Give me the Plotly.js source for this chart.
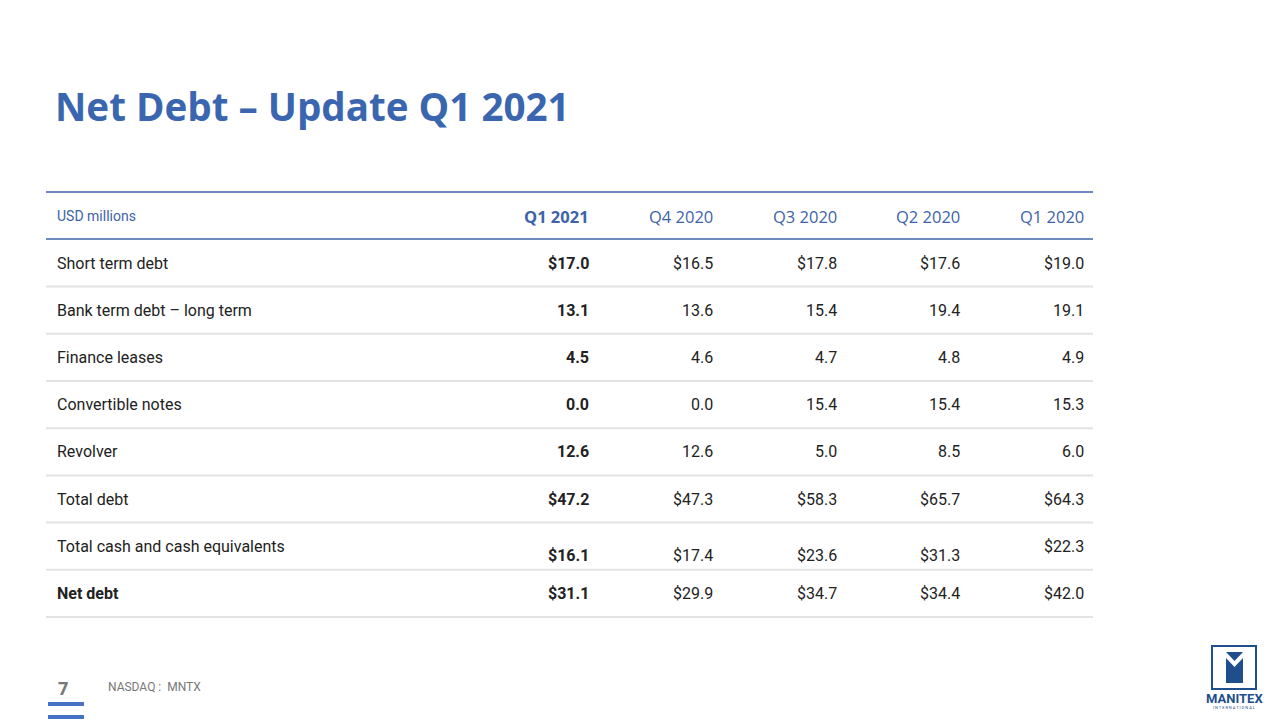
<!DOCTYPE html>
<html>
<head>
<meta charset="utf-8">
<script src="https://cdn.plot.ly/plotly-3.0.1.min.js"></script>
<style>html,body{margin:0;padding:0;background:#fff;}#chart{width:1280px;height:720px;}</style>
</head>
<body>
<div id="chart"></div>
<script>
// ---- data ----
const title = "Net Debt – Update Q1 2021";
const unitLabel = "USD millions";
const columns = ["Q1 2021", "Q4 2020", "Q3 2020", "Q2 2020", "Q1 2020"];
const rowLabels = ["Short term debt", "Bank term debt – long term", "Finance leases", "Convertible notes",
                   "Revolver", "Total debt", "Total cash and cash equivalents", "Net debt"];
const q1_2021 = [17.0, 13.1, 4.5, 0.0, 12.6, 47.2, 16.1, 31.1];
const q4_2020 = [16.5, 13.6, 4.6, 0.0, 12.6, 47.3, 17.4, 29.9];
const q3_2020 = [17.8, 15.4, 4.7, 15.4, 5.0, 58.3, 23.6, 34.7];
const q2_2020 = [17.6, 19.4, 4.8, 15.4, 8.5, 65.7, 31.3, 34.4];
const q1_2020 = [19.0, 19.1, 4.9, 15.3, 6.0, 64.3, 22.3, 42.0];
const dollarRows = ["Short term debt", "Total debt", "Total cash and cash equivalents", "Net debt"];
const footerPage = "7";
const footerTicker = "NASDAQ :  MNTX";

// ---- layout ----
const series = [q1_2021, q4_2020, q3_2020, q2_2020, q1_2020];
const BLUE = "#3d63a8", TEXT = "#222222", GRAY = "#e3e3e3";
const tableLeft = 46, tableRight = 1093, labelX = 55;
const colRight0 = 591, colStep = 123.75;
const headerY = 216, rowY0 = 263, rowStep = 47.2;

const annotations = [];
const shapes = [];

// title
annotations.push({x: 53, y: 106, xref: 'x', yref: 'y', text: "<b>" + title + "</b>", showarrow: false,
  xanchor: 'left', yanchor: 'middle', font: {family: "Open Sans, sans-serif", size: 38.6, color: "#3a66b0", weight: 800}});

// header
annotations.push({x: labelX, y: headerY, text: unitLabel, showarrow: false, xanchor: 'left', yanchor: 'middle',
  font: {family: "Roboto", size: 14, color: BLUE}});
columns.forEach((c, j) => {
  annotations.push({x: colRight0 + j * colStep, y: headerY, text: j === 0 ? "<b>" + c + "</b>" : c, showarrow: false,
    xanchor: 'right', yanchor: 'middle', font: {family: "Open Sans, sans-serif", size: 16.5, color: BLUE}});
});

// rows
rowLabels.forEach((lab, i) => {
  const y = rowY0 + i * rowStep;
  const isNet = lab === "Net debt";
  const isCash = lab === "Total cash and cash equivalents";
  annotations.push({x: labelX, y: y, text: isNet ? "<b>" + lab + "</b>" : lab, showarrow: false,
    xanchor: 'left', yanchor: 'middle', font: {family: "Roboto", size: 16, color: TEXT}});
  series.forEach((s, j) => {
    let t = (dollarRows.includes(lab) ? "$" : "") + s[i].toFixed(1);
    if (j === 0) t = "<b>" + t + "</b>";
    const yy = (isCash && j < 4) ? y + 9 : y;
    annotations.push({x: colRight0 + j * colStep, y: yy, text: t, showarrow: false,
      xanchor: 'right', yanchor: 'middle', font: {family: "Roboto", size: 16, color: TEXT}});
  });
  // separator below row
  shapes.push({type: 'line', xref: 'x', yref: 'y', x0: tableLeft, x1: tableRight, y0: y + rowStep / 2, y1: y + rowStep / 2,
    line: {color: GRAY, width: 2}});
});
// blue header lines
[192, 239].forEach(yv => shapes.push({type: 'line', xref: 'x', yref: 'y', x0: tableLeft, x1: tableRight, y0: yv, y1: yv,
  line: {color: BLUE, width: 1.5}}));

// footer
annotations.push({x: 63, y: 688, text: "<b>" + footerPage + "</b>", showarrow: false, xanchor: 'center', yanchor: 'middle',
  font: {family: "Open Sans, sans-serif", size: 18, color: "#777777"}});
annotations.push({x: 106, y: 687, text: footerTicker, showarrow: false, xanchor: 'left', yanchor: 'middle',
  font: {family: "Roboto", size: 12, color: "#777777"}});
[704, 717].forEach(yv => shapes.push({type: 'rect', xref: 'x', yref: 'y', x0: 48, x1: 84, y0: yv - 2, y1: yv + 2,
  fillcolor: "#4472c4", line: {width: 0}}));

// logo
const LB = "#1f4e8c";
shapes.push({type: 'rect', xref: 'x', yref: 'y', x0: 1212, x1: 1256, y0: 646, y1: 689, line: {color: LB, width: 2}, fillcolor: 'rgba(0,0,0,0)'});
shapes.push({type: 'path', xref: 'x', yref: 'y', path: "M1226,652 L1243,652 L1234.5,661 Z", fillcolor: LB, line: {width: 0}});
shapes.push({type: 'path', xref: 'x', yref: 'y', path: "M1226,658 L1234.5,667 L1243,658 L1243,683 L1226,683 Z", fillcolor: LB, line: {width: 0}});
annotations.push({x: 1234, y: 698, text: "<b>MANITEX</b>", showarrow: false, xanchor: 'center', yanchor: 'middle',
  font: {family: "Roboto", size: 13, color: LB}});
annotations.push({x: 1234, y: 707, text: "I N T E R N A T I O N A L", showarrow: false, xanchor: 'center', yanchor: 'middle',
  font: {family: "Roboto", size: 4, color: LB}});

const layout = {
  width: 1280, height: 720,
  margin: {l: 0, r: 0, t: 0, b: 0},
  paper_bgcolor: "#ffffff", plot_bgcolor: "#ffffff",
  xaxis: {range: [0, 1280], visible: false, fixedrange: true},
  yaxis: {range: [720, 0], visible: false, fixedrange: true},
  showlegend: false,
  annotations: annotations,
  shapes: shapes
};
Plotly.newPlot('chart', [], layout, {displayModeBar: false, staticPlot: true});
</script>
</body>
</html>
